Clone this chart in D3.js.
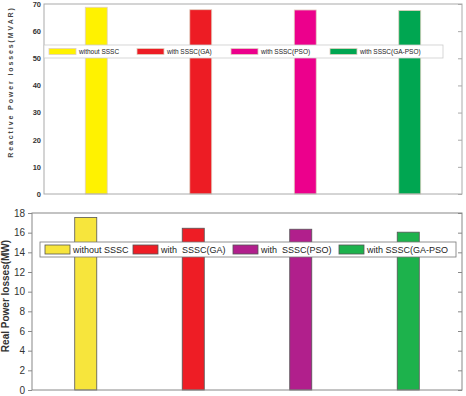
<!DOCTYPE html>
<html lang="en">
<head>
  <meta charset="UTF-8">
  <title>Power losses comparison</title>
  <script src="https://d3js.org/d3.v7.min.js"></script>
  <style>
    body { margin: 0; background: #fff; font-family: "Liberation Sans", Arial, sans-serif; }
    svg { display: block; }
    text { white-space: pre; }
  </style>
</head>
<body>
  <svg id="chart" width="466" height="396"></svg>
  <script>
    // ---- data ----
    const cases = ["without SSSC", "with SSSC(GA)", "with SSSC(PSO)", "with SSSC(GA-PSO)"];
    const reactiveLoss = [68.8, 67.9, 67.8, 67.6];   // MVAR
    const realLoss = [17.55, 16.45, 16.35, 16.05];    // MW
    const reactiveTicks = [0, 10, 20, 30, 40, 50, 60, 70];
    const realTicks = [0, 2, 4, 6, 8, 10, 12, 14, 16, 18];
    const realLegend = ["without SSSC", "with  SSSC(GA)", "with  SSSC(PSO)", "with SSSC(GA-PSO"];

    const svg = d3.select("#chart");

    function panel(opt) {
      const g = svg.append("g");
      const x = d3.scaleBand().domain(cases).range([opt.x0, opt.x1]);
      const y = d3.scaleLinear().domain([0, opt.max]).range([opt.y1, opt.y0]);
      const bw = x.bandwidth() * opt.barFrac;

      // bars
      g.selectAll("rect.bar")
        .data(opt.values)
        .enter().append("rect")
        .attr("class", "bar")
        .attr("x", (d, i) => x(cases[i]) + x.bandwidth() / 2 - bw / 2)
        .attr("y", d => y(d))
        .attr("width", bw)
        .attr("height", d => y(0) - y(d))
        .attr("fill", (d, i) => opt.colors[i])
        .attr("stroke", opt.barStroke)
        .attr("stroke-width", 0.8);

      // left axis
      const ax = g.append("g")
        .attr("transform", `translate(${opt.x0},0)`)
        .call(d3.axisLeft(y).tickValues(opt.ticks).tickSize(opt.tickLen).tickPadding(3));
      ax.select(".domain").remove();
      ax.selectAll("line").attr("stroke", opt.frame);
      ax.selectAll("text")
        .attr("fill", "#333")
        .style("font-size", opt.tickFont + "px")
        .style("font-weight", opt.tickWeight);

      // right inner ticks
      const ar = g.append("g")
        .attr("transform", `translate(${opt.x1},0)`)
        .call(d3.axisRight(y).tickValues(opt.ticks).tickSize(-4).tickFormat(""));
      ar.select(".domain").remove();
      ar.selectAll("line").attr("stroke", opt.frame);

      // frame
      g.append("rect")
        .attr("x", opt.x0).attr("y", opt.y0)
        .attr("width", opt.x1 - opt.x0).attr("height", opt.y1 - opt.y0)
        .attr("fill", "none").attr("stroke", opt.frame).attr("stroke-width", 1);

      // y label
      g.append("text")
        .attr("transform", `translate(${opt.labelX},${opt.labelY}) rotate(-90)`)
        .attr("text-anchor", "middle")
        .attr("fill", opt.labelColor)
        .style("font-size", opt.labelFont + "px")
        .style("font-weight", "bold")
        .style("letter-spacing", opt.labelSpacing + "px")
        .text(opt.label);

      // legend
      const lg = g.append("g");
      lg.append("rect")
        .attr("x", opt.leg.x).attr("y", opt.leg.y)
        .attr("width", opt.leg.w).attr("height", opt.leg.h)
        .attr("fill", "#fff").attr("stroke", opt.leg.stroke).attr("stroke-width", 0.8);
      opt.legendNames.forEach((name, i) => {
        const sx = opt.leg.sx[i];
        lg.append("rect")
          .attr("x", sx).attr("y", opt.leg.y + (opt.leg.h - opt.leg.sh) / 2)
          .attr("width", opt.leg.sw).attr("height", opt.leg.sh)
          .attr("fill", opt.colors[i])
          .attr("stroke", opt.barStroke).attr("stroke-width", 0.8);
        lg.append("text")
          .attr("x", sx + opt.leg.sw + 3)
          .attr("y", opt.leg.y + opt.leg.h / 2)
          .attr("dy", "0.35em")
          .attr("fill", "#222")
          .style("font-size", opt.leg.font + "px")
          .text(name);
      });
    }

    // top: reactive power losses
    panel({
      x0: 44, x1: 462, y0: 4, y1: 194, max: 70,
      values: reactiveLoss, ticks: reactiveTicks, barFrac: 0.21,
      colors: ["#fff200", "#ed1c24", "#ec008c", "#00a651"],
      barStroke: "#e0d0c0", frame: "#aaa", tickLen: 0, tickFont: 7.5, tickWeight: "bold",
      label: "Reactive Power losses(MVAR)", labelX: 13, labelY: 82, labelFont: 7,
      labelSpacing: 1.9, labelColor: "#444",
      legendNames: cases,
      leg: { x: 44, y: 45, w: 399, h: 13, sx: [49, 137, 231, 330], sw: 27, sh: 6, font: 6.5, stroke: "#ccc" }
    });

    // bottom: real power losses
    panel({
      x0: 32, x1: 462, y0: 213, y1: 390, max: 18,
      values: realLoss, ticks: realTicks, barFrac: 0.205,
      colors: ["#f7e53c", "#ee1d25", "#b11f8c", "#1db24c"],
      barStroke: "#555", frame: "#888", tickLen: 4, tickFont: 10, tickWeight: "normal",
      label: "Real Power losses(MW)", labelX: 9, labelY: 296, labelFont: 10,
      labelSpacing: 0, labelColor: "#333",
      legendNames: realLegend,
      leg: { x: 40, y: 242, w: 416, h: 15, sx: [45, 133, 233, 339], sw: 25, sh: 9, font: 9, stroke: "#777" }
    });
  </script>
</body>
</html>
